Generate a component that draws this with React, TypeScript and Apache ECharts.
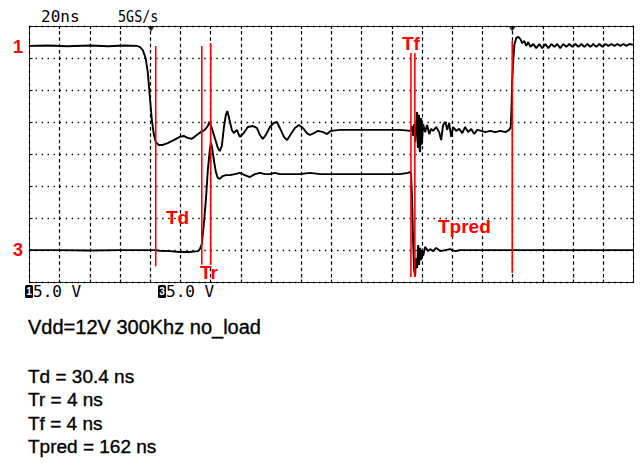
import React, { useEffect, useRef } from "react";
import * as echarts from "echarts";

// Time axis in ns (20 ns per division, 20 divisions), vertical axis in divisions (8)
const timeRange = [0, 400];
const timeStep = 20;
const divRange = [0, 8];
const divStep = 1;
const gridTimes = [20, 40, 60, 80, 100, 120, 140, 160, 180, 200, 220, 240, 260, 280, 300, 320, 340, 360, 380];

const headerTexts = ["20ns", "5GS/s"];
const channelBadges = ["1", "3"];
const channelScales = ["5.0 V", "5.0 V"];
const channelMarkers = ["1", "3"];
const cursorLabels = ["Td", "Tr", "Tf", "Tpred"];
const conditionText = "Vdd=12V 300Khz no_load";
const measurementLines = ["Td = 30.4 ns", "Tr = 4 ns", "Tf = 4 ns", "Tpred = 162 ns"];

// Cursor (red) lines: time, top level, bottom level (divisions)
const cursorTimes = [83.6, 114.1, 120.0, 252.6, 255.2, 319.7];
const cursorTops = [7.38, 7.38, 7.47, 7.16, 7.16, 7.53];
const cursorBottoms = [0.51, 0.55, 0.55, 0.17, 0.17, 0.3];

// Trigger / reference arrows on the top border
const triggerMarks = [80.5, 319.7];

// Channel 1 trace (upper)
const ch1Trace: [number, number][] = [
  [0, 7.38], [12, 7.39], [25, 7.37], [39.8, 7.39], [52, 7.37], [63, 7.39], [71, 7.38],
  [73, 7.35], [75, 7.25], [76.9, 7.0], [78.3, 6.57], [79.6, 5.85], [80.9, 5.13], [82.3, 4.63],
  [83.6, 4.38], [85.6, 4.29], [88.2, 4.29], [91.5, 4.35], [95.5, 4.44], [99.5, 4.54],
  [102.1, 4.57], [104.8, 4.51], [107.5, 4.48], [110.8, 4.6], [113.4, 4.69], [116.1, 4.76],
  [118.1, 4.88], [119.1, 5.01], [120.7, 4.82], [122.7, 4.51], [124.7, 4.2], [126, 4.1],
  [127.4, 4.26], [128.7, 4.82], [130, 5.22], [131, 5.35], [132, 5.16], [134, 4.76],
  [135.3, 4.66], [137.3, 4.76], [139.3, 4.54], [141.9, 4.66], [144.6, 4.85], [147.9, 4.88],
  [150.6, 4.82], [152.6, 4.6], [154.5, 4.48], [156.5, 4.6], [159.2, 4.85], [161.8, 4.98],
  [163.8, 5.01], [165.8, 4.82], [168.5, 4.54], [170.5, 4.44], [173.1, 4.63], [175.8, 4.82],
  [178.4, 4.91], [181.1, 4.82], [183.7, 4.66], [185.7, 4.6], [188.4, 4.66], [191, 4.73],
  [194.6, 4.69], [197, 4.63], [199.7, 4.73], [205.6, 4.76], [218.9, 4.76], [232.2, 4.76],
  [245.4, 4.76], [252.4, 4.73],
  [252.7, 4.73], [253.4, 4.88], [254, 4.57], [254.7, 4.94], [255.4, 4.38], [256, 4.82],
  [256.7, 5.32], [257.1, 4.3], [257.4, 4.2], [257.7, 5.2], [258, 5.22], [258.4, 4.1],
  [258.7, 4.07], [259, 5.0], [259.4, 5.13], [259.7, 4.3], [260, 4.44], [260.7, 4.94],
  [262, 4.69], [263.3, 4.91], [264.7, 4.63], [266, 4.79], [267.3, 4.73], [269.3, 4.85],
  [271.3, 4.69], [272.6, 4.44], [273.9, 4.91], [275.3, 5.01], [276.6, 4.76], [277.9, 4.98],
  [279.3, 4.54], [280.6, 4.85], [282.6, 4.73], [284.6, 4.79], [286.6, 4.66], [288.5, 4.85],
  [290.5, 4.69], [292.5, 4.79], [294.5, 4.63], [296.5, 4.76], [299.2, 4.73], [301.8, 4.69],
  [305.1, 4.73], [308.4, 4.69], [311.8, 4.73], [315.1, 4.69], [317.7, 4.76], [318.7, 4.85],
  [319.1, 5.32], [319.7, 6.32], [320.4, 6.94], [321.1, 7.41], [322.4, 7.63], [323.7, 7.66],
  [325, 7.6], [326.3, 7.47], [327.7, 7.53], [329, 7.38], [330.3, 7.5], [331.7, 7.35],
  [333.7, 7.44], [335.6, 7.31], [337.6, 7.44], [339.6, 7.31], [341.6, 7.44], [343.6, 7.31],
  [345.6, 7.44], [347.6, 7.35], [349.5, 7.44], [351.5, 7.31], [353.5, 7.44], [355.5, 7.35],
  [357.5, 7.44], [359.5, 7.35], [361.5, 7.44], [363.5, 7.35], [365.5, 7.44], [367.5, 7.35],
  [369.5, 7.44], [371.4, 7.35], [373.4, 7.44], [375.4, 7.35], [377.4, 7.44], [379.4, 7.35],
  [381.4, 7.44], [383.4, 7.38], [385.4, 7.44], [387.4, 7.38], [389.4, 7.44], [391.3, 7.38],
  [393.3, 7.44], [395.3, 7.38], [397.3, 7.44], [400, 7.41],
];

// Channel 3 trace (lower)
const ch3Trace: [number, number][] = [
  [0, 1.01], [19.9, 1.01], [39.8, 1.0], [59.7, 1.01], [79.6, 1.01], [83.6, 1.01], [86.2, 0.99],
  [92.9, 0.98], [99.5, 0.95], [106.1, 0.95], [111.5, 0.98], [112.8, 1.04], [114.1, 1.2],
  [115.4, 1.79], [116.8, 2.57], [118.1, 3.51], [119.4, 4.13], [120.1, 4.35], [120.7, 4.26],
  [122.1, 3.82], [123.4, 3.45], [124.7, 3.26], [126, 3.23], [128, 3.32], [130, 3.35],
  [132.7, 3.35], [136, 3.38], [139.3, 3.42], [142.6, 3.35], [145.9, 3.29], [149.3, 3.38],
  [152.6, 3.42], [155.9, 3.38], [159.2, 3.38], [162.5, 3.42], [165.8, 3.38], [172.5, 3.38],
  [179.1, 3.38], [185.7, 3.42], [192.4, 3.38], [205.6, 3.38], [218.9, 3.38], [232.2, 3.38],
  [245.4, 3.38], [250.7, 3.42], [252.1, 3.45], [252.7, 3.38], [253.4, 2.57], [254, 1.33],
  [254.7, 0.39], [255.4, 0.2], [256, 0.76], [256.7, 0.45], [257.4, 1.17], [258, 0.55],
  [258.7, 1.08], [259.4, 0.7], [260, 1.01], [260.7, 0.83], [262, 1.11], [264, 0.98],
  [265.3, 1.04], [267.3, 0.98], [269.3, 1.08], [272, 0.98], [275.3, 1.01], [278.6, 1.04],
  [281.9, 0.98], [285.2, 1.01], [291.9, 1.01], [298.5, 1.01], [311.8, 1.01], [325, 1.01],
  [338.3, 1.01], [351.5, 1.01], [364.8, 1.01], [378.1, 1.01], [391.3, 1.01], [400, 1.01],
];

const MONO = '"DejaVu Sans Mono", monospace';
const SANS = '"Liberation Sans", Arial, sans-serif';
const RED = "#ff0000";

function buildOption() {
  const borderLine = { show: true, onZero: false, lineStyle: { color: "#000", width: 1, type: [1, 1] } };
  const tick = { show: true, inside: true, length: 3, lineStyle: { color: "#000", width: 1 } };
  const vGridStyle = { color: "#000", width: 1.2, type: [2, 4.4] };
  const hGrid = { show: true, lineStyle: { color: "#000", width: 1.4, type: [1.4, 4.63] } };
  const xBase = { type: "value", min: timeRange[0], max: timeRange[1], interval: timeStep, axisLabel: { show: false } };
  const yBase = { type: "value", min: divRange[0], max: divRange[1], interval: divStep, axisLabel: { show: false } };

  const cursorSeries = cursorTimes.map((t, i) => ({
    type: "line",
    name: "cursor" + i,
    data: [[t, cursorTops[i]], [t, cursorBottoms[i]]],
    showSymbol: false,
    lineStyle: { color: RED, width: 1.6 },
    silent: true,
    z: 5,
  }));

  const blackText = (text: string, x: number, y: number, font: string) => ({
    type: "text",
    x,
    y,
    style: { text, font, fill: "#000", stroke: "#000", lineWidth: 0.35, verticalAlign: "middle", textVerticalAlign: "middle" },
  });

  const graphics: any[] = [];
  graphics.push({ type: "text", x: 41, y: 16, style: { text: headerTexts[0], font: "16px " + MONO, fill: "#000", verticalAlign: "middle", textVerticalAlign: "middle" } });
  graphics.push({ type: "text", x: 118, y: 16, scaleX: 0.84, style: { text: headerTexts[1], font: "16px " + MONO, fill: "#000", verticalAlign: "middle", textVerticalAlign: "middle" } });
  const badgeX = [25, 158];
  channelBadges.forEach((b, i) => {
    graphics.push({ type: "rect", shape: { x: badgeX[i], y: 285, width: 8, height: 13, r: 1.5 }, style: { fill: "#000" } });
    graphics.push({ type: "text", x: badgeX[i] + 4, y: 291.5, style: { text: b, font: "bold 10px " + SANS, fill: "#fff", align: "center", textAlign: "center", verticalAlign: "middle", textVerticalAlign: "middle" } });
    graphics.push({ type: "text", x: badgeX[i] + 8, y: 291.5, style: { text: channelScales[i], font: "16px " + MONO, fill: "#000", verticalAlign: "middle", textVerticalAlign: "middle" } });
  });
  const markerY = [46.5, 250];
  channelMarkers.forEach((m, i) => {
    graphics.push({ type: "text", x: 13, y: markerY[i], style: { text: m, font: "bold 18px " + SANS, fill: RED, verticalAlign: "middle", textVerticalAlign: "middle" } });
  });
  const labelPos = [[166, 217.5], [200, 272], [402, 43.5], [438, 226.5]];
  cursorLabels.forEach((l, i) => {
    graphics.push({ type: "text", x: labelPos[i][0], y: labelPos[i][1], z: 10, style: { text: l, font: "bold 19px " + SANS, fill: RED, verticalAlign: "middle", textVerticalAlign: "middle" } });
  });
  graphics.push(blackText(conditionText, 28, 326.5, "20px " + SANS));
  const measY = [376, 399.5, 423, 446.5];
  measurementLines.forEach((m, i) => {
    graphics.push(blackText(m, 28, measY[i], "19px " + SANS));
  });

  return {
    animation: false,
    backgroundColor: "#fff",
    grid: { left: 29.5, top: 26, width: 604, height: 256.5, containLabel: false },
    xAxis: [
      { ...xBase, position: "bottom", axisLine: borderLine, axisTick: tick, splitLine: { show: true, lineStyle: vGridStyle } },
      { ...xBase, position: "top", axisLine: borderLine, axisTick: tick, splitLine: { show: false } },
    ],
    yAxis: [
      { ...yBase, position: "left", axisLine: borderLine, axisTick: tick, splitLine: hGrid },
      { ...yBase, position: "right", axisLine: borderLine, axisTick: tick, splitLine: { show: false } },
    ],
    series: [
      {
        type: "line",
        name: "CH1",
        data: ch1Trace,
        showSymbol: false,
        lineStyle: { color: "#000", width: 1.9 },
        silent: true,
        z: 3,
        markLine: {
          silent: true,
          symbol: ["none", "none"],
          label: { show: false },
          emphasis: { disabled: true },
          lineStyle: vGridStyle,
          data: gridTimes.map((t) => ({ xAxis: t })),
        },
      },
      { type: "line", name: "CH3", data: ch3Trace, showSymbol: false, lineStyle: { color: "#000", width: 1.9 }, silent: true, z: 3 },
      ...cursorSeries,
      {
        type: "scatter",
        name: "trigger",
        data: triggerMarks.map((t) => [t, divRange[1]]),
        symbol: "triangle",
        symbolRotate: 180,
        symbolSize: [7, 5],
        symbolOffset: [0, 3],
        itemStyle: { color: "#000" },
        silent: true,
        z: 6,
      },
    ],
    graphic: graphics,
  };
}

export default function App() {
  const ref = useRef<HTMLDivElement>(null);
  useEffect(() => {
    if (!ref.current) return;
    const chart = echarts.init(ref.current, null, { renderer: "svg" });
    chart.setOption(buildOption() as any);
    return () => chart.dispose();
  }, []);
  return <div ref={ref} style={{ position: "absolute", left: 0, top: 0, width: 640, height: 463, background: "#fff" }} />;
}
